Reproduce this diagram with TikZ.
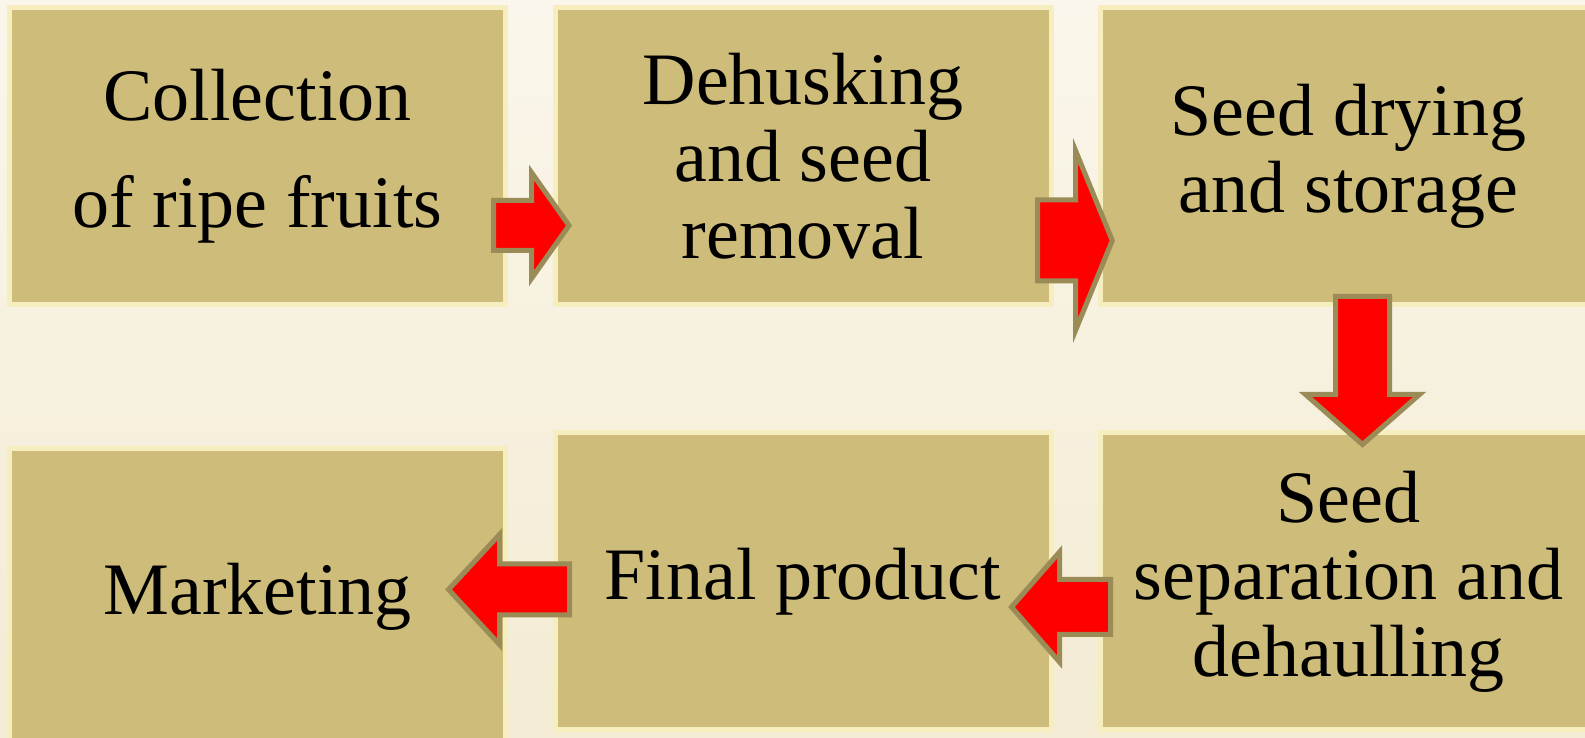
\documentclass[tikz,border=0pt]{standalone}
\usepackage{fontspec}
\setmainfont{Liberation Serif}

\definecolor{boxfill}{RGB}{206,188,122}
\definecolor{boxedge}{RGB}{246,238,190}
\definecolor{arrowedge}{RGB}{155,139,86}
\definecolor{bgtop}{RGB}{250,246,235}
\definecolor{bgmid}{RGB}{243,234,208}
\definecolor{bgbottom}{RGB}{243,235,211}

% block arrow: start, angle, length, head length, shaft half, head half
\newcommand{\blockarrow}[6]{%
  \begin{scope}[shift={(#1)}, rotate=#2]
    \draw[bigarrow] (0,#5) -- (#3-#4,#5) -- (#3-#4,#6) -- (#3,0)
      -- (#3-#4,-#6) -- (#3-#4,-#5) -- (0,-#5) -- cycle;
  \end{scope}}

\begin{document}
\begin{tikzpicture}[x=1pt, y=1pt,
  stage/.style={draw=boxedge, fill=boxfill, line width=5pt,
    minimum width=496pt, minimum height=297pt, inner sep=0pt,
    align=center, font=\fontsize{74}{77}\selectfont},
  bigarrow/.style={draw=arrowedge, fill=red, line width=5pt}]

% Background
\useasboundingbox (0,0) rectangle (1585,738);
\clip (0,0) rectangle (1585,738);
\shade[top color=bgtop, middle color=bgmid, bottom color=bgbottom]
  (0,0) rectangle (1585,738);

% Top row
\node[stage] (collect) at (257.5,582) {Collection\\[30pt]of ripe fruits};
\node[stage] (dehusk) at (803,582) {Dehusking\\and seed\\removal};
\node[stage] (seeddry) at (1348.5,582) {Seed drying\\and storage};

% Bottom row
\node[stage] (sepdehaul) at (1348.5,156.5) {Seed\\separation and\\dehaulling};
\node[stage] (final) at (803,156.5) {Final product};
\node[stage] (market) at (257.5,141) {Marketing};

% Arrow starts
\coordinate (a1) at (493.5,512.5);
\coordinate (a2) at (1037.5,497.5);
\coordinate (a3) at (1362.5,441.5);
\coordinate (a4) at (1110.5,131);
\coordinate (a5) at (569.5,148.5);

% Arrows
\blockarrow{a1}{0}{75.5}{37.5}{25}{53}
\blockarrow{a2}{0}{74.8}{36.8}{40.5}{90}
\blockarrow{a3}{-90}{148}{50}{27}{57}
\blockarrow{a4}{180}{99}{48}{27.5}{55}
\blockarrow{a5}{180}{121}{51}{25.5}{55}

\end{tikzpicture}
\end{document}
